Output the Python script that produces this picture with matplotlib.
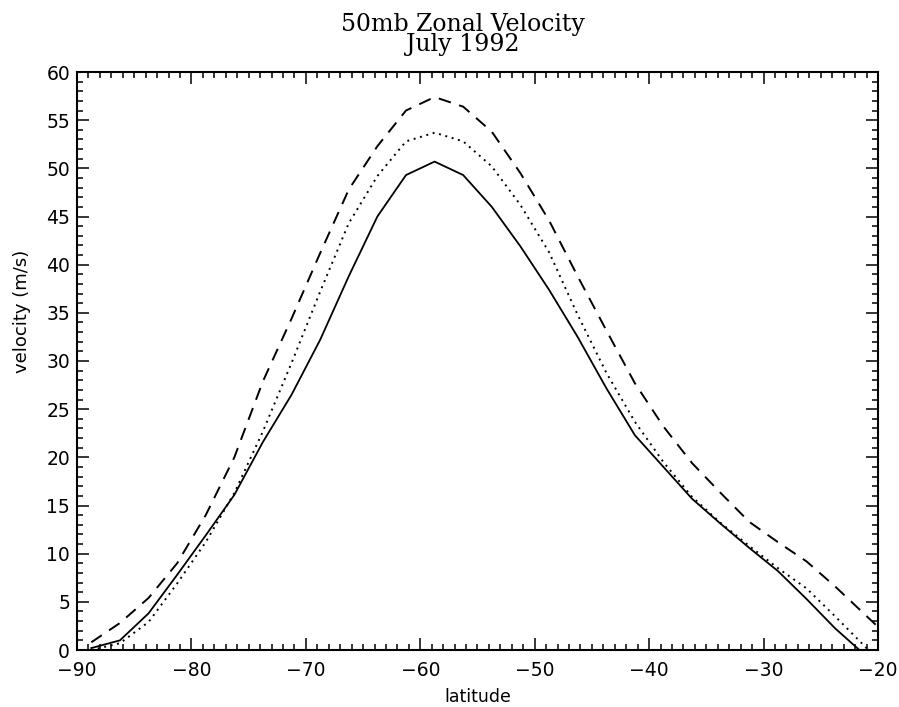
import numpy as np
import matplotlib
matplotlib.use("Agg")
import matplotlib.pyplot as plt
from matplotlib.ticker import MultipleLocator

# latitudes of the 2.5 degree grid (last point falls outside the axes and is clipped)
latitude = [-88.75, -86.25, -83.75, -81.25, -78.75, -76.25, -73.75, -71.25,
            -68.75, -66.25, -63.75, -61.25, -58.75, -56.25, -53.75, -51.25,
            -48.75, -46.25, -43.75, -41.25, -38.75, -36.25, -33.75, -31.25,
            -28.75, -26.25, -23.75, -21.25, -18.75]

vel_solid = [0.2, 1.0, 3.8, 7.8, 11.9, 16.1, 21.6, 26.5,
             32.2, 38.8, 45.0, 49.3, 50.7, 49.3, 46.0, 41.9,
             37.4, 32.5, 27.2, 22.3, 19.0, 15.7, 13.1, 10.6,
             8.2, 5.3, 2.25, -0.4, -3.3]

vel_dotted = [0.0, 0.7, 2.9, 6.9, 11.2, 16.3, 22.7, 29.8,
              37.2, 44.3, 49.2, 52.8, 53.7, 52.8, 50.2, 46.2,
              41.3, 34.8, 28.8, 23.7, 19.5, 15.9, 13.2, 10.8,
              8.5, 6.4, 3.5, 0.5, -2.5]

vel_dashed = [0.8, 2.8, 5.4, 9.0, 14.0, 20.0, 27.9, 34.4,
              41.2, 47.8, 52.3, 56.0, 57.4, 56.4, 53.8, 49.5,
              44.6, 38.8, 33.2, 27.7, 23.2, 19.4, 16.3, 13.3,
              11.2, 9.2, 6.6, 3.8, 1.0]

W, H = 899, 707
fig = plt.figure(figsize=(W / 100, H / 100), dpi=100)
ax = fig.add_axes([77 / W, 1 - 650 / H, (878 - 77) / W, (650 - 72) / H])

ax.plot(latitude, vel_solid, color="black", lw=1.3, linestyle="-")
ax.plot(latitude, vel_dotted, color="black", lw=1.4, linestyle=(0, (1, 2.4)))
ax.plot(latitude, vel_dashed, color="black", lw=1.4, linestyle=(0, (6.5, 4.5)))

ax.set_xlim(-90, -20)
ax.set_ylim(0, 60)
ax.xaxis.set_major_locator(MultipleLocator(10))
ax.xaxis.set_minor_locator(MultipleLocator(1))
ax.yaxis.set_major_locator(MultipleLocator(5))
ax.yaxis.set_minor_locator(MultipleLocator(1))

ax.tick_params(which="both", direction="in", top=True, right=True,
               color="black", width=1.1, labelsize=13.5)
ax.tick_params(which="major", length=8.5)
ax.tick_params(axis="x", which="major", pad=8)
ax.tick_params(axis="y", which="major", pad=5)
ax.tick_params(which="minor", length=4.2)
for s in ax.spines.values():
    s.set_linewidth(1.5)

ax.set_xlabel("latitude", fontsize=12.5)
ax.xaxis.set_label_coords(0.5, -0.066)
ax.set_ylabel("velocity (m/s)", fontsize=13)
ax.yaxis.set_label_coords(-0.058, 0.585)

fig.text(463 / W, 1 - 24 / H, "50mb Zonal Velocity", ha="center", va="center",
         family="DejaVu Serif", fontsize=17)
fig.text(463 / W, 1 - 45 / H, "July 1992", ha="center", va="center",
         family="DejaVu Serif", fontsize=17)

fig.savefig("out.png", dpi=100, facecolor="white")
